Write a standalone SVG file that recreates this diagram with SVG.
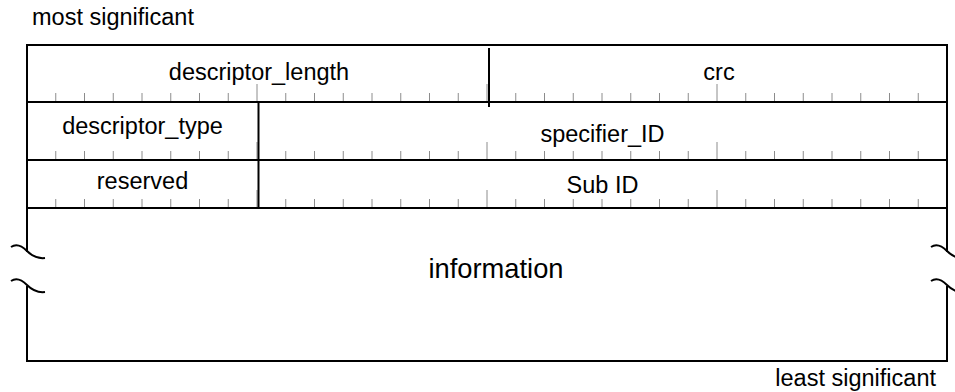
<svg xmlns="http://www.w3.org/2000/svg" width="955" height="392" viewBox="0 0 955 392">
  <style>
    .t { font-family: "Liberation Sans", Arial, sans-serif; font-size: 23.5px; fill: #000; }
    .c { text-anchor: middle; }
    .big { font-size: 27.3px; }
    .frame { fill: none; stroke: #000; stroke-width: 2; }
    .div { stroke: #000; stroke-width: 2; }
    .tk { stroke: #8c8c8c; stroke-width: 1; }
  </style>
  <rect width="955" height="392" fill="#fff"/>

  <text id="msb" class="t" x="32" y="25">most significant</text>
  <text id="lsb" class="t" x="936" y="386" text-anchor="end">least significant</text>

  <g id="frame">
    <path class="frame" d="M27,252 V45 H947 V252 M947,286 V361 H27 V286"/>
    <path class="frame" d="M11,247 C17,243 22,246 27,251 C32,256 37,259 45,258"/>
    <path class="frame" d="M11,281 C17,277 22,280 27,285 C32,290 37,293 45,292"/>
    <path class="frame" d="M931,247 C937,243 942,246 947,251 C952,256 957,259 965,258"/>
    <path class="frame" d="M931,281 C937,277 942,280 947,285 C952,290 957,293 965,292"/>
  </g>

  <g id="ticks">
    <path class="tk" d="M55.75,93V102M84.5,93V102M113.25,93V102M142,93V102M170.75,93V102M199.5,93V102M228.25,93V102M257,84V102M285.75,93V102M314.5,93V102M343.25,93V102M372,93V102M400.75,93V102M429.5,93V102M458.25,93V102M487,84V102M515.75,93V102M544.5,93V102M573.25,93V102M602,93V102M630.75,93V102M659.5,93V102M688.25,93V102M717,84V102M745.75,93V102M774.5,93V102M803.25,93V102M832,93V102M860.75,93V102M889.5,93V102M918.25,93V102"/>
    <path class="tk" d="M55.75,151V160M84.5,151V160M113.25,151V160M142,151V160M170.75,151V160M199.5,151V160M228.25,151V160M257,142V160M285.75,151V160M314.5,151V160M343.25,151V160M372,151V160M400.75,151V160M429.5,151V160M458.25,151V160M487,142V160M515.75,151V160M544.5,151V160M573.25,151V160M602,151V160M630.75,151V160M659.5,151V160M688.25,151V160M717,142V160M745.75,151V160M774.5,151V160M803.25,151V160M832,151V160M860.75,151V160M889.5,151V160M918.25,151V160"/>
    <path class="tk" d="M55.75,199V208M84.5,199V208M113.25,199V208M142,199V208M170.75,199V208M199.5,199V208M228.25,199V208M257,190V208M285.75,199V208M314.5,199V208M343.25,199V208M372,199V208M400.75,199V208M429.5,199V208M458.25,199V208M487,190V208M515.75,199V208M544.5,199V208M573.25,199V208M602,199V208M630.75,199V208M659.5,199V208M688.25,199V208M717,190V208M745.75,199V208M774.5,199V208M803.25,199V208M832,199V208M860.75,199V208M889.5,199V208M918.25,199V208"/>
  </g>

  <g id="rows">
    <path class="div" d="M27,102H947M27,160H947M27,208H947"/>
    <path class="div" d="M489,48V107"/>
    <path class="div" d="M258.5,102V208"/>
  </g>

  <g id="f-descriptor_length"><text class="t c" x="259" y="80">descriptor_length</text></g>
  <g id="f-crc"><text class="t c" x="719" y="80">crc</text></g>
  <g id="f-descriptor_type"><text class="t c" x="142.5" y="134">descriptor_type</text></g>
  <g id="f-specifier_ID"><text class="t c" x="602.5" y="142">specifier_ID</text></g>
  <g id="f-reserved"><text class="t c" x="142.5" y="189">reserved</text></g>
  <g id="f-sub_ID"><text class="t c" x="602.5" y="193">Sub ID</text></g>
  <g id="f-information"><text class="t c big" x="496" y="278">information</text></g>
</svg>
